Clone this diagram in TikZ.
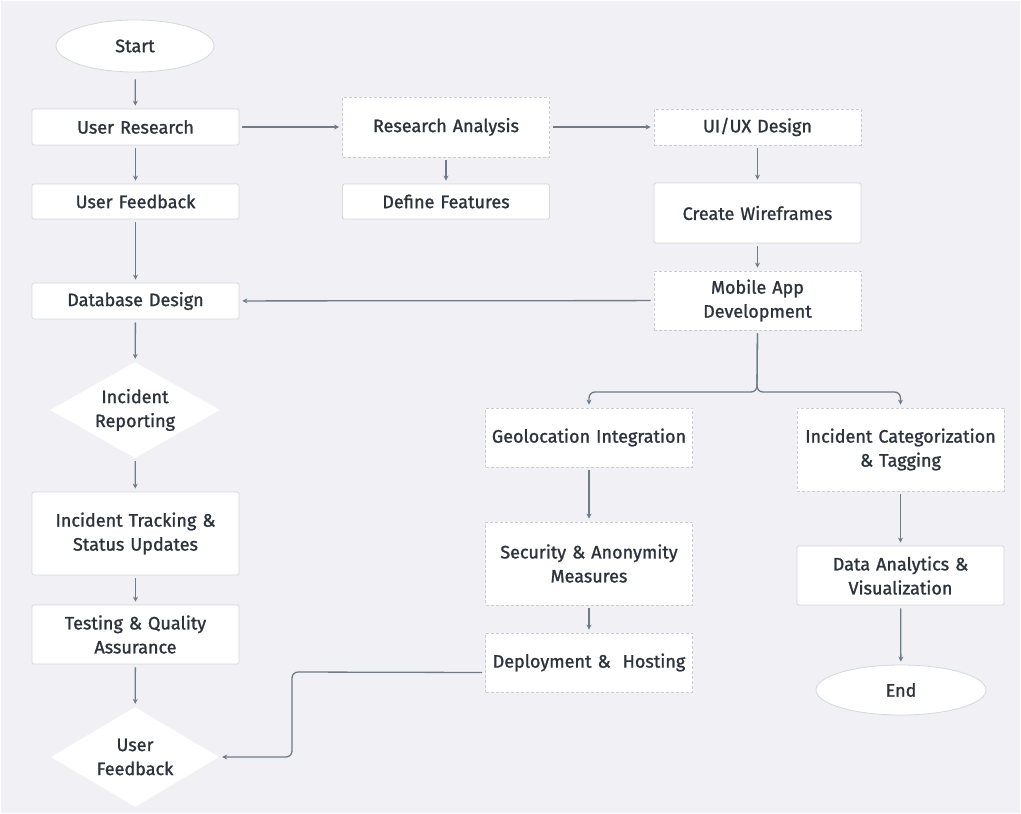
\documentclass[tikz,border=0pt]{standalone}
\usepackage{fontspec}
\setmainfont{Fira Sans}[RawFeature={embolden=1.2}]
\usetikzlibrary{shapes.geometric,arrows.meta}
\definecolor{bgc}{HTML}{F0F0F5}
\definecolor{edgec}{HTML}{D3D9DF}
\definecolor{dashc}{HTML}{C9CED4}
\definecolor{linec}{HTML}{6E7C89}
\definecolor{txtc}{HTML}{2B333D}
\tikzset{
  x=1pt,y=-1pt,
  base/.style={fill=white,text=txtc,font=\fontsize{18}{24}\selectfont,align=center,inner sep=0pt,line width=0.8pt},
  solidbox/.style={base,draw=edgec,rounded corners=1.5pt,minimum width=207,text width=205},
  dashbox/.style={base,draw=dashc,dashed,dash pattern=on 3pt off 2pt,minimum width=207,text width=205},
  term/.style={base,draw=edgec,ellipse},
  dec/.style={fill=white,diamond,draw=none,inner sep=0pt},
  dectext/.style={text=txtc,font=\fontsize{18}{24}\selectfont,align=center},
  conn/.style={draw=linec,line width=1.3pt,-{Stealth[length=5pt,width=5pt]},shorten >=3pt,shorten <=3pt,rounded corners=6pt},
}
\begin{document}
\begin{tikzpicture}
\fill[bgc] (0,0) rectangle (1021,814);
\draw[white,line width=1pt] (0.5,0.5) rectangle (1020.5,813.5);
\useasboundingbox (0,0) rectangle (1021,814);
% left column
\node[term,minimum width=158,minimum height=52] (start) at (135,46) {Start};
\node[solidbox,minimum height=36] (ur) at (135.5,127) {User Research};
\node[solidbox,minimum height=35] (uf) at (135.5,201.5) {User Feedback};
\node[solidbox,minimum height=36] (db) at (135.5,301) {Database Design};
\node[dec,minimum width=170,minimum height=96,label={[dectext]center:Incident\\Reporting}] (ir) at (135,410) {};
\node[solidbox,minimum height=83] (it) at (135.5,533.5) {Incident Tracking \&\\Status Updates};
\node[solidbox,minimum height=59] (tq) at (135.5,634.5) {Testing \& Quality\\Assurance};
\node[dec,minimum width=168,minimum height=100,label={[dectext]center:User\\Feedback}] (uf2) at (135,757) {};
% middle column
\node[dashbox,minimum height=60] (ra) at (446,127) {Research Analysis};
\node[solidbox,minimum height=35] (df) at (446,201.5) {Define Features};
% right column
\node[dashbox,minimum height=36] (ux) at (757.5,127) {UI/UX Design};
\node[solidbox,minimum height=60] (cw) at (757.5,213) {Create Wireframes};
\node[dashbox,minimum height=59] (ma) at (757.5,300.5) {Mobile App\\Development};
\node[dashbox,minimum height=59] (gi) at (589,437.5) {Geolocation Integration};
\node[dashbox,minimum height=83] (sa) at (589,563.5) {Security \& Anonymity\\Measures};
\node[dashbox,minimum height=59] (dh) at (589,662.5) {Deployment \&\ \ Hosting};
\node[dashbox,minimum height=83] (ic) at (900.5,449.5) {Incident Categorization\\\& Tagging};
\node[solidbox,minimum height=59] (da) at (900.5,575.5) {Data Analytics \&\\Visualization};
\node[term,minimum width=170,minimum height=50] (end) at (901,690) {End};
% connectors
\draw[conn,shorten <=7pt] (start) -- (ur);
\draw[conn] (ur) -- (uf);
\draw[conn] (uf) -- (db);
\draw[conn] (db) -- (ir);
\draw[conn] (ir) -- (it);
\draw[conn] (it) -- (tq);
\draw[conn] (tq) -- (uf2);
\draw[conn] (ur) -- (ra);
\draw[conn] (ra) -- (ux);
\draw[conn] (ra) -- (df);
\draw[conn] (ux) -- (cw);
\draw[conn] (cw) -- (ma);
\draw[conn] (ma) -- (db);
\coordinate (br) at (757,392);
\draw[conn] (ma.south) -- (br) -| (gi.north);
\draw[conn] (ma.south) -- (br) -| (ic.north);
\draw[conn] (gi) -- (sa);
\draw[conn] (sa) -- (dh);
\coordinate (bend) at (292,672);
\draw[conn] ([yshift=-10pt]dh.west) -- (bend) |- (uf2.east);
\draw[conn] (ic) -- (da);
\draw[conn] (da) -- (end);
\end{tikzpicture}
\end{document}
